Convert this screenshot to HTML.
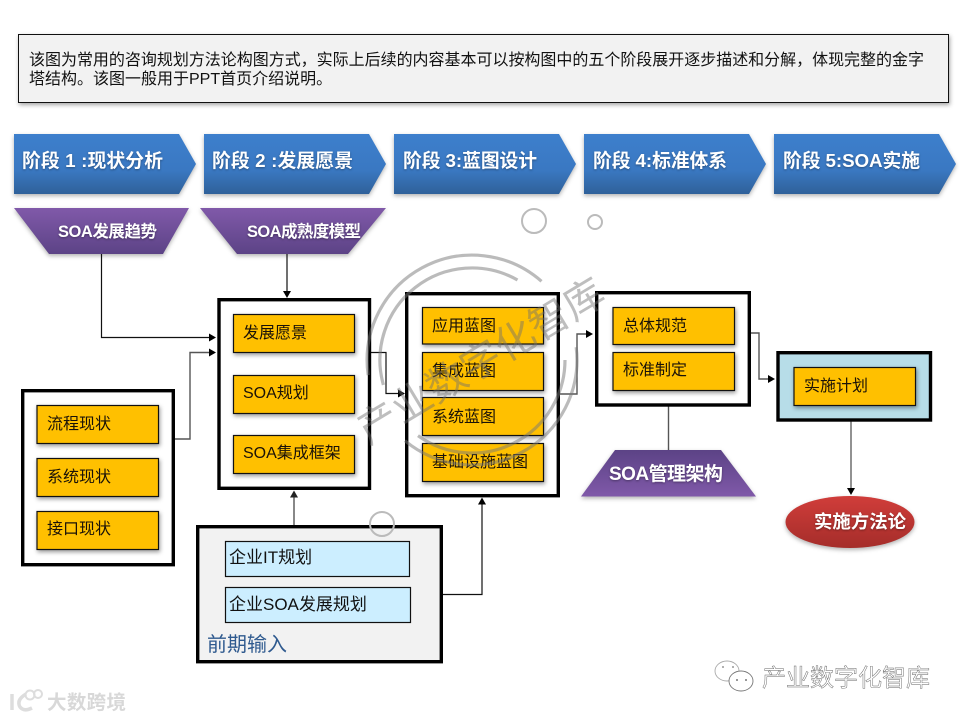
<!DOCTYPE html>
<html lang="zh">
<head>
<meta charset="utf-8">
<title>SOA 咨询规划方法论</title>
<style>
html,body{margin:0;padding:0;background:#fff;}
svg{display:block;}
text{font-family:"Liberation Sans","Noto Sans CJK SC",sans-serif;}
.y{fill:#ffc000;stroke:#111;stroke-width:1.2;filter:drop-shadow(1px 2px 2px rgba(0,0,0,.4));}
.b{fill:#cceeff;stroke:#111;stroke-width:1.2;}
.f{fill:#fff;stroke:#000;stroke-width:3.4;}
.t{font-size:16px;fill:#1a1208;}
.t2{font-size:17px;fill:#111;}
.w{fill:#fff;font-weight:bold;filter:drop-shadow(0 1px 1px rgba(0,0,0,.35));}
.l{fill:none;stroke:#111;stroke-width:1.2;}
.g{fill:none;stroke:#555;stroke-width:1.4;}
.s{filter:drop-shadow(0 2px 2px rgba(0,0,0,.3));}
.wm{fill:none;stroke:rgba(120,120,120,.5);stroke-width:3.2;}
</style>
</head>
<body>
<svg width="960" height="720" viewBox="0 0 960 720" xmlns="http://www.w3.org/2000/svg">
<defs>
<linearGradient id="blue" x1="0" y1="0" x2="0" y2="1"><stop offset="0" stop-color="#3d7fcc"/><stop offset=".6" stop-color="#3a78c2"/><stop offset="1" stop-color="#2f6099"/></linearGradient>
<linearGradient id="pur" x1="0" y1="0" x2="0" y2="1"><stop offset="0" stop-color="#8059a9"/><stop offset="1" stop-color="#5c4386"/></linearGradient>
<linearGradient id="pur2" x1="0" y1="0" x2="0" y2="1"><stop offset="0" stop-color="#5c4386"/><stop offset="1" stop-color="#8059a9"/></linearGradient>
<linearGradient id="red" x1="0" y1="0" x2="0" y2="1"><stop offset="0" stop-color="#d03d3a"/><stop offset="1" stop-color="#a52d2a"/></linearGradient>
</defs>
<rect width="960" height="720" fill="#fff"/>

<!-- intro -->
<rect x="18.5" y="34.5" width="930" height="68" fill="#f2f2f2" stroke="#111" stroke-width="1" style="filter:drop-shadow(1px 2px 2px rgba(0,0,0,.35))"/>
<text x="29" y="65" font-size="16" fill="#111" textLength="895">该图为常用的咨询规划方法论构图方式，实际上后续的内容基本可以按构图中的五个阶段展开逐步描述和分解，体现完整的金字</text>
<text x="29" y="84" font-size="16" fill="#111">塔结构。该图一般用于PPT首页介绍说明。</text>

<!-- chevrons -->
<g class="s" fill="url(#blue)">
<polygon points="14,134 179,134 196,164 179,194 14,194"/>
<polygon points="204,134 369,134 386,164 369,194 204,194"/>
<polygon points="394,134 559,134 576,164 559,194 394,194"/>
<polygon points="584,134 749,134 766,164 749,194 584,194"/>
<polygon points="774,134 939,134 956,164 939,194 774,194"/>
</g>
<g font-size="18.8">
<text class="w" x="22" y="167" textLength="141">阶段 1 :现状分析</text>
<text class="w" x="212" y="167" textLength="141">阶段 2 :发展愿景</text>
<text class="w" x="403" y="167" textLength="134">阶段 3:蓝图设计</text>
<text class="w" x="593" y="167" textLength="134">阶段 4:标准体系</text>
<text class="w" x="783" y="167" textLength="137">阶段 5:SOA实施</text>
</g>

<!-- top trapezoids -->
<g class="s">
<polygon points="14,208 189,208 163,254 49,254" fill="url(#pur)"/>
<polygon points="200,208 386,208 348,254 237,254" fill="url(#pur)"/>
</g>
<text class="w" x="58" y="237" font-size="16.5" textLength="99">SOA发展趋势</text>
<text class="w" x="247" y="237" font-size="16.5" textLength="114">SOA成熟度模型</text>

<!-- connectors -->
<polyline class="l" points="101.5,254 101.5,337.5 210,337.5"/>
<polygon points="216,337.5 209,333.5 209,341.5" fill="#000"/>
<line class="l" x1="287" y1="254" x2="287" y2="292"/>
<polygon points="287,298 283,291 291,291" fill="#000"/>
<polyline class="g" points="175,439 190,439 190,352.5 210,352.5"/>
<polygon points="216,352.5 209,348.5 209,356.5" fill="#000"/>
<line class="g" x1="294" y1="525" x2="294" y2="496"/>
<polygon points="294,490.5 290,497.5 298,497.5" fill="#222"/>
<polyline class="l" points="371,352.5 386,352.5 386,393.5 400,393.5"/>
<polygon points="405,393.5 398,389.5 398,397.5" fill="#000"/>
<polyline class="g" points="560,394 577,394 577,334 588,334"/>
<polygon points="593,334 586,330 586,338" fill="#000"/>
<polyline class="g" points="751,333 759,333 759,379 770,379"/>
<polygon points="775,379 768,375 768,383" fill="#000"/>
<polyline class="l" points="443,594.5 482,594.5 482,503"/>
<polygon points="482,497.5 478,504.5 486,504.5" fill="#000"/>
<line class="g" x1="668.5" y1="406" x2="668.5" y2="450"/>
<line x1="851" y1="421" x2="851" y2="489" stroke="#777" stroke-width="1.6"/>
<polygon points="851,495 847,488 855,488" fill="#000"/>

<!-- box 1 -->
<rect class="f" x="22.7" y="390.7" width="150.6" height="174"/>
<rect class="y" x="37" y="405.5" width="121.5" height="38"/>
<rect class="y" x="37" y="458.5" width="121.5" height="38"/>
<rect class="y" x="37" y="511.5" width="121.5" height="38"/>
<text class="t" x="47" y="429">流程现状</text>
<text class="t" x="47" y="482">系统现状</text>
<text class="t" x="47" y="534">接口现状</text>

<!-- box 2 -->
<rect class="f" x="219" y="299.7" width="150.5" height="188.6"/>
<rect class="y" x="233.5" y="314.5" width="121" height="38"/>
<rect class="y" x="233.5" y="375.5" width="121" height="38"/>
<rect class="y" x="233.5" y="435.5" width="121" height="38"/>
<text class="t" x="243" y="338">发展愿景</text>
<text class="t" x="243" y="398">SOA规划</text>
<text class="t" x="243" y="458">SOA集成框架</text>

<!-- box 3 -->
<rect class="f" x="406.7" y="293.7" width="151.6" height="202"/>
<rect class="y" x="422.5" y="307.5" width="121" height="36.5"/>
<rect class="y" x="422.5" y="352.5" width="121" height="38"/>
<rect class="y" x="422.5" y="397.5" width="121" height="38"/>
<rect class="y" x="422.5" y="443.5" width="121" height="38"/>
<text class="t" x="432" y="331">应用蓝图</text>
<text class="t" x="432" y="376">集成蓝图</text>
<text class="t" x="432" y="422">系统蓝图</text>
<text class="t" x="432" y="467">基础设施蓝图</text>

<!-- box 4 -->
<rect class="f" x="596.7" y="292.7" width="152.6" height="112.3"/>
<rect class="y" x="613" y="307.5" width="121.5" height="37"/>
<rect class="y" x="613" y="352.5" width="121.5" height="38"/>
<text class="t" x="623" y="331">总体规范</text>
<text class="t" x="623" y="375">标准制定</text>

<!-- box 5 -->
<rect x="778" y="352.7" width="152.5" height="67.3" fill="#b7dde8" stroke="#000" stroke-width="3.4"/>
<rect class="y" x="794" y="367.5" width="121.5" height="38"/>
<text class="t" x="804" y="391">实施计划</text>

<!-- input box -->
<rect x="197.7" y="526.7" width="243.6" height="135" fill="#f2f2f2" stroke="#000" stroke-width="3.4"/>
<rect class="b" x="225.5" y="541.5" width="184" height="35"/>
<rect class="b" x="225.5" y="587.5" width="185" height="35"/>
<text class="t2" x="229" y="563">企业IT规划</text>
<text class="t2" x="229" y="610">企业SOA发展规划</text>
<text x="207" y="651" font-size="20" fill="#2f5a8f">前期输入</text>

<!-- SOA management -->
<polygon class="s" points="615,450 721,450 756,496.5 581,496.5" fill="url(#pur2)"/>
<text class="w" x="609" y="480" font-size="19" textLength="114">SOA管理架构</text>

<!-- ellipse -->
<ellipse class="s" cx="850" cy="522" rx="64.5" ry="26" fill="url(#red)"/>
<text class="w" x="814" y="528" font-size="18.4" textLength="92">实施方法论</text>

<!-- central watermark -->
<path class="wm" d="M541.5,281.3 A105,105 0 0 0 368.2,375.1"/>
<path class="wm" d="M404.9,440.7 A105,105 0 0 0 576.2,347.2"/>
<path class="wm" d="M517.5,280 A92,92 0 0 0 383.4,384.9" stroke-width="2.4"/>
<path class="wm" d="M418,435.7 A93,93 0 0 0 565,360" stroke-width="2.4"/>
<text transform="translate(368,445) rotate(-31)" font-size="40" fill="rgba(110,110,110,.45)" textLength="280">产业数字化智库</text>
<circle cx="534" cy="221" r="12" fill="none" stroke="#bbb" stroke-width="2"/>
<circle cx="595" cy="222" r="7" fill="none" stroke="#bbb" stroke-width="2"/>
<circle cx="382" cy="524" r="12" fill="none" stroke="#bbb" stroke-width="2"/>

<!-- corner watermark, right -->
<ellipse cx="727" cy="671" rx="12" ry="10" fill="#fff" stroke="#aaa" stroke-width=".9"/>
<ellipse cx="741" cy="681" rx="12" ry="10" fill="#fff" stroke="#777" stroke-width=".9"/>
<circle cx="723" cy="667" r="1" fill="#999"/><circle cx="733" cy="667" r="1" fill="#999"/>
<circle cx="737" cy="680" r="1" fill="#777"/><circle cx="746" cy="680" r="1" fill="#777"/>
<text x="762" y="686" font-size="24" fill="#fff" stroke="#666" stroke-width=".45" textLength="168">产业数字化智库</text>

<!-- corner watermark, left -->
<path d="M12,694 L12,710 M26,694 Q16,700 20,707 Q24,712 32,708" fill="none" stroke="#ddd" stroke-width="3.5"/>
<circle cx="30" cy="695" r="4.5" fill="none" stroke="#ddd" stroke-width="2"/>
<circle cx="38" cy="694" r="4" fill="none" stroke="#ddd" stroke-width="2"/>
<text x="47" y="709" font-size="19.5" font-weight="bold" fill="#d8d8d8" textLength="79">大数跨境</text>
</svg>
</body>
</html>
